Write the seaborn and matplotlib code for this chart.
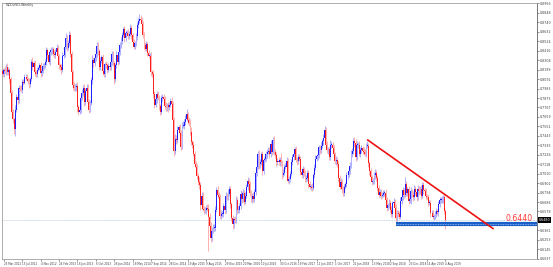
import numpy as np
import pandas as pd
import matplotlib
matplotlib.use("Agg")
import matplotlib.pyplot as plt
import matplotlib.transforms as mtransforms
import seaborn as sns

# ---------------- data (weekly NZDUSD, prices in 1e-4 units) ----------------
first_week = "2012-03-18"
first_open = 8180

close_2012 = [8150, 8190, 8180, 8230, 8170, 8200, 8090, 7930, 7720, 7640, 7520,
              7740, 7890, 7850, 7990, 7980, 7970, 8060, 8050, 8110, 8120, 8090, 8070, 8030,
              8090, 8290, 8230, 8270, 8170, 8150, 8200, 8220, 8250, 8160, 8180, 8240, 8250,
              8290, 8420, 8370, 8290, 8400]
close_2013 = [8420, 8430, 8380, 8370, 8400, 8450, 8350, 8250, 8230, 8190, 8360, 8370, 8460,
              8560, 8450, 8500, 8590, 8380, 8170, 8020, 7990, 8000, 8010, 7770, 7720, 7740,
              7880, 7930, 7990, 7830, 7960, 7990, 7830, 7740, 7820, 8080, 8310, 8270, 8330,
              8380, 8470, 8410, 8230, 8300, 8340, 8180, 8150, 8260, 8250, 8200, 8240, 8230]
close_2014 = [8290, 8380, 8270, 8090, 8250, 8370, 8290, 8400, 8480, 8530, 8600, 8660, 8560,
              8620, 8620, 8580, 8610, 8680, 8590, 8520, 8460, 8500, 8580, 8710, 8760, 8780,
              8770, 8720, 8590, 8480, 8440, 8490, 8390, 8360, 8360, 8170, 8150, 7920, 7800,
              7860, 7920, 7880, 7780, 7720, 7870, 7890, 7860, 7780, 7770, 7790, 7770, 7800]
close_2015 = [7840, 7810, 7620, 7270, 7410, 7390, 7510, 7540, 7480, 7320, 7560, 7560, 7600,
              7640, 7690, 7620, 7590, 7490, 7370, 7340, 7240, 7120, 7090, 6980, 6920, 6880,
              6650, 6760, 6610, 6590, 6590, 6620, 6610, 6520, 6410, 6280, 6360, 6390, 6390,
              6600, 6820, 6770, 6740, 6530, 6550, 6550, 6640, 6590, 6760, 6750, 6780, 6830]
close_2016 = [6660, 6500, 6430, 6490, 6480, 6710, 6590, 6600, 6640, 6780, 6720, 6790, 6690,
              6760, 6860, 6930, 6890, 6790, 6720, 6760, 6720, 6800, 7020, 7090, 7230, 7120,
              7140, 7230, 7040, 7170, 7180, 7230, 7260, 7270, 7230, 7350, 7260, 7390, 7260,
              7220, 7140, 7160, 7140, 7170, 7140, 7000, 7020, 7090, 7090, 7160, 6930, 6950]
close_2017 = [7010, 7140, 7200, 7240, 7290, 7170, 7150, 7200, 7180, 7030, 6990, 7060, 7020,
              6950, 6960, 7020, 6890, 6860, 6860, 6850, 6990, 7080, 7180, 7210, 7220, 7310,
              7280, 7330, 7380, 7420, 7510, 7340, 7280, 7290, 7200, 7340, 7340, 7300, 7230,
              7150, 7170, 7120, 6960, 6860, 6920, 6830, 6790, 6860, 6890, 6990, 7000, 7040, 7100]
close_2018 = [7240, 7270, 7380, 7360, 7200, 7340, 7340, 7240, 7280, 7300, 7270, 7260,
              7240, 7330, 7330, 7130, 7040, 6970, 6920, 6930, 6990, 7020, 6960, 6850, 6770,
              6800, 6760, 6770, 6790, 6790, 6710, 6620, 6650, 6680, 6600, 6550, 6670, 6690, 6620,
              6500, 6560, 6550, 6520, 6700, 6740, 6820, 6770, 6890, 6790, 6830, 6700, 6720]
close_2019 = [6810, 6770, 6740, 6840, 6800, 6740, 6840, 6810, 6840, 6760, 6880, 6820, 6810,
              6750, 6740, 6680, 6680, 6560, 6560, 6520, 6520, 6550, 6580, 6570, 6660, 6710,
              6710, 6720, 6740, 6580, 6480]

# wick extensions beyond the body, in units of 10 pips
hi_2012 = [4, 3, 5, 3, 4, 3, 2, 3, 4, 3, 2, 5, 3, 4, 3, 3, 4, 3, 3, 4, 3, 3, 2, 3,
           2, 3, 5, 3, 4, 3, 3, 2, 3, 4, 2, 3, 2, 3, 4, 3, 4, 3]
lo_2012 = [3, 4, 3, 4, 3, 3, 4, 5, 4, 5, 6, 8, 3, 4, 3, 3, 3, 4, 3, 2, 3, 2, 3, 4,
           3, 2, 4, 3, 4, 3, 3, 2, 3, 4, 3, 2, 3, 3, 4, 5, 3, 4]
hi_2013 = [4, 3, 3, 4, 3, 4, 3, 3, 2, 3, 4, 3, 4, 6, 3, 4, 5, 4, 3, 3, 4, 3, 4, 5, 3, 4,
           4, 5, 3, 4, 3, 5, 4, 3, 3, 4, 6, 3, 4, 3, 5, 4, 3, 4, 3, 4, 3, 3, 4, 3, 3, 4]
lo_2013 = [3, 4, 3, 4, 4, 3, 3, 4, 3, 4, 2, 3, 3, 3, 4, 3, 3, 4, 3, 5, 4, 3, 4, 5, 4, 3,
           4, 3, 3, 5, 3, 4, 3, 4, 3, 3, 4, 4, 3, 3, 4, 4, 3, 4, 3, 4, 3, 3, 3, 4, 3, 3]
hi_2014 = [4, 3, 3, 3, 3, 4, 3, 3, 3, 4, 3, 3, 4, 3, 3, 4, 3, 4, 3, 3, 3, 3, 4, 3, 3, 6,
           4, 3, 3, 4, 3, 4, 3, 3, 3, 4, 3, 4, 3, 5, 4, 4, 3, 3, 4, 3, 3, 4, 5, 3, 4, 3]
lo_2014 = [3, 4, 3, 6, 3, 3, 4, 3, 3, 3, 4, 3, 4, 3, 4, 3, 3, 3, 4, 3, 3, 3, 3, 4, 3, 3,
           3, 4, 3, 4, 3, 3, 4, 3, 3, 4, 3, 5, 4, 3, 4, 3, 4, 4, 3, 4, 3, 3, 4, 4, 5, 3]
hi_2015 = [4, 5, 3, 4, 5, 4, 4, 3, 4, 3, 4, 5, 3, 4, 6, 3, 4, 4, 5, 3, 4, 3, 4, 3, 4, 5,
           3, 4, 4, 3, 4, 3, 4, 5, 4, 5, 4, 5, 4, 4, 4, 5, 3, 4, 4, 3, 4, 3, 4, 3, 5, 4]
lo_2015 = [3, 5, 6, 6, 4, 4, 3, 3, 4, 4, 3, 3, 4, 3, 3, 4, 3, 4, 3, 4, 3, 3, 4, 3, 4, 4,
           5, 4, 3, 4, 3, 4, 3, 39, 4, 5, 4, 3, 4, 3, 3, 4, 4, 4, 4, 3, 3, 4, 3, 4, 4, 3]
hi_2016 = [4, 3, 4, 3, 4, 4, 3, 4, 3, 4, 3, 5, 3, 4, 3, 4, 3, 4, 3, 3, 4, 3, 3, 4, 4, 5,
           4, 3, 4, 3, 4, 4, 3, 4, 5, 4, 3, 4, 5, 3, 4, 3, 4, 3, 8, 3, 4, 3, 4, 4, 3, 3]
lo_2016 = [4, 3, 5, 4, 3, 3, 4, 3, 4, 3, 4, 3, 4, 3, 3, 4, 3, 4, 3, 4, 3, 3, 3, 4, 3, 6,
           4, 3, 4, 3, 3, 3, 4, 3, 4, 3, 4, 3, 4, 3, 4, 3, 3, 4, 4, 5, 3, 3, 3, 4, 3, 4]
hi_2017 = [3, 4, 3, 4, 3, 4, 3, 3, 4, 3, 4, 4, 3, 3, 4, 3, 3, 4, 3, 4, 3, 4, 4, 3, 4, 3,
           3, 4, 3, 4, 5, 3, 4, 3, 3, 5, 4, 3, 4, 3, 4, 3, 4, 3, 4, 3, 4, 3, 3, 4, 3, 3, 4]
lo_2017 = [4, 3, 3, 3, 4, 3, 4, 3, 3, 4, 3, 3, 4, 3, 4, 3, 4, 3, 4, 4, 3, 3, 3, 3, 4, 3,
           4, 3, 3, 4, 3, 4, 3, 4, 3, 3, 4, 3, 4, 3, 4, 3, 4, 3, 3, 4, 3, 3, 3, 3, 4, 3, 3]
hi_2018 = [4, 3, 4, 5, 5, 4, 3, 4, 3, 4, 3, 4, 3, 3, 5, 3, 3, 4, 3, 3, 4, 4, 3, 4, 3,
           3, 4, 3, 3, 3, 4, 3, 3, 4, 3, 4, 3, 4, 3, 4, 3, 4, 3, 4, 3, 4, 3, 8, 4, 3, 4, 3]
lo_2018 = [3, 4, 3, 4, 4, 3, 4, 3, 4, 3, 3, 4, 3, 4, 3, 4, 4, 3, 4, 3, 4, 4, 3, 4, 3,
           3, 4, 3, 3, 4, 3, 4, 3, 3, 3, 4, 3, 3, 3, 8, 3, 4, 3, 3, 4, 3, 4, 3, 4, 3, 4, 3]
hi_2019 = [5, 3, 4, 4, 3, 4, 4, 3, 3, 4, 4, 3, 3, 4, 3, 3, 3, 3, 4, 3, 3, 3, 4, 3, 4, 3,
           3, 4, 3, 3, 3]
lo_2019 = [6, 3, 4, 3, 3, 4, 3, 4, 3, 4, 3, 4, 3, 3, 3, 4, 3, 4, 3, 3, 4, 3, 3, 3, 4, 3,
           3, 3, 4, 3, 10]

x_labels = ["25 Mar 2012", "15 Jul 2012", "4 Nov 2012", "24 Feb 2013", "16 Jun 2013",
            "6 Oct 2013", "26 Jan 2014", "18 May 2014", "7 Sep 2014", "28 Dec 2014",
            "19 Apr 2015", "9 Aug 2015", "29 Nov 2015", "20 Mar 2016", "10 Jul 2016",
            "30 Oct 2016", "19 Feb 2017", "11 Jun 2017", "1 Oct 2017", "21 Jan 2018",
            "13 May 2018", "2 Sep 2018", "23 Dec 2018", "14 Apr 2019", "4 Aug 2019"]
y_ticks = [0.6037, 0.6145, 0.6253, 0.6361, 0.6470, 0.6578, 0.6686, 0.6794, 0.6902,
           0.7010, 0.7118, 0.7226, 0.7335, 0.7443, 0.7551, 0.7659, 0.7767, 0.7875,
           0.7983, 0.8091, 0.8199, 0.8308, 0.8416, 0.8524, 0.8632, 0.8740, 0.8848, 0.8956]

support_level = 0.6440
support_start = "2018-10-07"
trend_start = ("2018-04-15", 0.7400)
trend_end = ("2020-05-24", 0.6378)
last_price = 0.6480
title = "NZDUSD,Weekly"

# ---------------- build OHLC ----------------
close = np.array(close_2012 + close_2013 + close_2014 + close_2015 + close_2016 +
                 close_2017 + close_2018 + close_2019) / 1e4
hi_ext = np.array(hi_2012 + hi_2013 + hi_2014 + hi_2015 + hi_2016 + hi_2017 + hi_2018 + hi_2019) / 1e3
lo_ext = np.array(lo_2012 + lo_2013 + lo_2014 + lo_2015 + lo_2016 + lo_2017 + lo_2018 + lo_2019) / 1e3
openp = np.r_[first_open / 1e4, close[:-1]]
weeks = pd.date_range(first_week, periods=len(close), freq="W-SUN")
df = pd.DataFrame({"week": weeks, "open": openp, "close": close})
df["idx"] = np.arange(len(df))
df["top"] = df[["open", "close"]].max(axis=1)
df["bot"] = df[["open", "close"]].min(axis=1)
df["high"] = df["top"] + hi_ext
df["low"] = df["bot"] - lo_ext
df["bull"] = df["close"] >= df["open"]

def week_pos(date_str):
    d = pd.Timestamp(date_str)
    return (d - weeks[0]).days / 7.0

# ---------------- draw ----------------
sns.set_style("white")
plt.rcParams['font.family'] = ['DejaVu Sans']

W, H = 553, 267
fig = plt.figure(figsize=(W / 100, H / 100), dpi=100)
ax = fig.add_axes([2 / W, 8 / H, 535 / W, 256 / H])
ax.set_xlim(-0.5, -0.5 + 535 / 1.15)
ax.set_ylim(0.6035, 0.8961)

blue, red = "#1f1fff", "#ff2020"
wick_cols = np.where(df["bull"], "#9a9aff", "#ff9a9a")
ax.vlines(df["idx"], df["low"], df["high"], colors=wick_cols, lw=0.55, zorder=2)
heights = np.maximum(df["top"] - df["bot"], 0.0006)
ax.bar(df["idx"], heights, bottom=df["bot"], width=0.8,
       color=np.where(df["bull"], blue, red), linewidth=0, zorder=3)

# current price line
ax.axhline(last_price, color="#b8c8dc", lw=0.6, ls=(0, (1, 1)), zorder=1)

# support band
s0 = week_pos(support_start)
xr = ax.get_xlim()[1]
ax.plot([s0, xr], [support_level, support_level], color="#1a5fc8", lw=3.0,
        solid_capstyle="butt", zorder=4)
ax.plot([s0, xr], [support_level, support_level], color="#9ec3f0", lw=0.6,
        ls=(0, (1, 1)), zorder=5)
trans = mtransforms.blended_transform_factory(ax.transAxes, ax.transData)
ax.text(0.966, support_level + 0.0062, "0.6440", transform=trans, color="#ff3a3a",
        fontsize=5.6, ha="center", va="center", zorder=6)

# trend line
ax.plot([week_pos(trend_start[0]), week_pos(trend_end[0])],
        [trend_start[1], trend_end[1]], color="#ee1111", lw=1.2,
        solid_capstyle="butt", zorder=6)

# axes styling
for s in ["left", "top"]:
    ax.spines[s].set_color("#a0a0a0")
    ax.spines[s].set_linestyle((0, (1, 1)))
    ax.spines[s].set_linewidth(0.6)
ax.spines["right"].set_color("#606060")
ax.spines["right"].set_linewidth(0.6)
ax.spines["bottom"].set_color("#a0a0a0")
ax.spines["bottom"].set_linewidth(0.6)

ax.yaxis.tick_right()
ax.set_yticks(y_ticks)
# the tick nearest the current price is hidden behind the price box on the scale
ax.set_yticklabels(["" if abs(v - last_price) < 0.003 else f"{v:.4f}" for v in y_ticks])
ax.tick_params(axis="y", which="both", right=True, left=False, length=1.5, width=0.4,
               pad=0.8, labelsize=2.3, colors="#404040")

xpos = [week_pos(pd.Timestamp(l).strftime("%Y-%m-%d")) for l in x_labels]
ax.set_xticks(xpos)
ax.set_xticklabels(x_labels)
ax.tick_params(axis="x", which="both", bottom=True, length=1.5, width=0.4, pad=0.8,
               labelsize=1.95, colors="#404040")
for t in ax.get_xticklabels():
    t.set_ha("left")

# current price box on the price scale
ax.text(1.003, last_price, f"{last_price:.4f}", transform=trans, fontsize=2.3,
        color="white", ha="left", va="center", zorder=10,
        bbox=dict(boxstyle="square,pad=0.3", fc="black", ec="black", lw=0))

fig.text(6 / W, 1 - 5 / H, title, fontsize=2.4, color="#404040", ha="left", va="center")

fig.savefig("out.png", dpi=100)
